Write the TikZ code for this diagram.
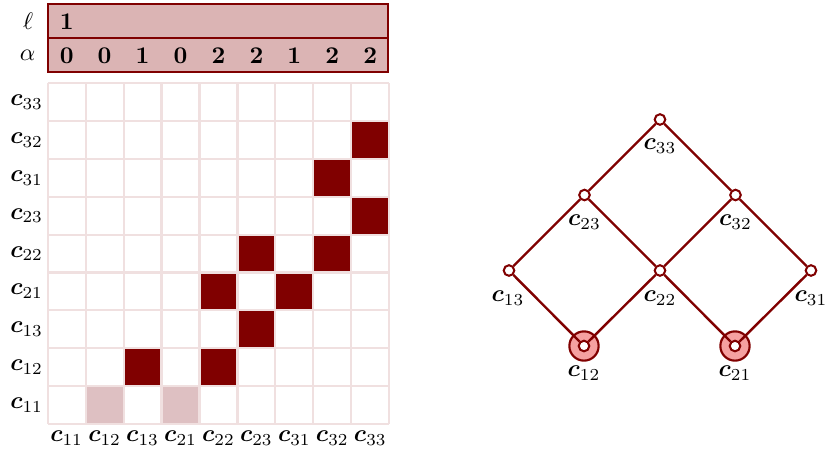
\documentclass[tikz,border=0pt]{standalone}
\usepackage{amsmath}
\usetikzlibrary{calc}
\definecolor{dred}{RGB}{128,0,0}
\definecolor{tabfill}{RGB}{219,180,180}
\definecolor{lightcell}{RGB}{222,192,194}
\definecolor{gridpink}{RGB}{240,224,224}
\definecolor{ringfill}{RGB}{245,160,160}
\newcommand{\cc}[1]{$\boldsymbol{c}_{#1}$}
\begin{document}
\begin{tikzpicture}[x=0.41667pt,y=-0.41667pt,
  tabbox/.style={draw=dred,fill=tabfill,line width=0.9pt},
  gridline/.style={draw=gridpink,line width=0.9pt},
  darkcell/.style={fill=dred},
  palecell/.style={fill=lightcell},
  lat/.style={draw=dred,line width=1pt},
  vert/.style={circle,draw=dred,fill=white,line width=0.85pt,inner sep=0pt,minimum size=4.4pt},
  ring/.style={circle,draw=dred,fill=ringfill,line width=0.9pt,inner sep=0pt,minimum size=12.2pt},
  txt/.style={inner sep=0pt}]
\useasboundingbox (0,0) rectangle (828,455);
% top table
\draw[tabbox] (47.7,4) rectangle (388.3,38.3);
\draw[tabbox] (47.7,38.3) rectangle (388.3,71.7);
\node[txt] (lell) at (28,21) {$\ell$};
\node[txt] (lalpha) at (27.5,55) {$\alpha$};
\node[txt] (one) at (66.7,22) {\textbf{1}};
\foreach \v [count=\i from 0] in {0,0,1,0,2,2,1,2,2}
  \node[txt] (a\i) at (47.7+37.95*\i+18.97,56) {\textbf{\v}};
% grid cells
\def\cell#1#2#3{\fill[#3] (47.7+37.95*#1,83.3+37.85*#2) rectangle ++(37.95,37.85);}
\cell{8}{1}{darkcell}
\cell{7}{2}{darkcell}
\cell{8}{3}{darkcell}
\cell{5}{4}{darkcell}
\cell{7}{4}{darkcell}
\cell{4}{5}{darkcell}
\cell{6}{5}{darkcell}
\cell{5}{6}{darkcell}
\cell{2}{7}{darkcell}
\cell{4}{7}{darkcell}
\cell{1}{8}{palecell}
\cell{3}{8}{palecell}
\foreach \i in {0,...,9}{
  \draw[gridline] (47.7+37.95*\i,83.3) -- (47.7+37.95*\i,423.95);
  \draw[gridline] (47.7,83.3+37.85*\i) -- (389.25,83.3+37.85*\i);
}
% row labels
\foreach \s [count=\j from 0] in {33,32,31,23,22,21,13,12,11}
  \node[txt,anchor=east] (r\s) at (43.5,83.3+37.85*\j+18.9) {\cc{\s}};
% column labels
\foreach \s [count=\i from 0] in {11,12,13,21,22,23,31,32,33}
  \node[txt] (k\s) at (47.7+37.95*\i+18.97,438) {\cc{\s}};
% lattice
\node[ring] (h12) at (584,346) {};
\node[ring] (h21) at (735,346) {};
\node[vert] (c33) at (660,119.5) {};
\node[vert] (c23) at (584.5,195) {};
\node[vert] (c32) at (735.5,195) {};
\node[vert] (c13) at (509,270.5) {};
\node[vert] (c22) at (660,270.5) {};
\node[vert] (c31) at (811,270.5) {};
\node[vert] (c12) at (584,346) {};
\node[vert] (c21) at (735,346) {};
\draw[lat] (c33) -- (c23);
\draw[lat] (c33) -- (c32);
\draw[lat] (c23) -- (c13);
\draw[lat] (c23) -- (c22);
\draw[lat] (c32) -- (c22);
\draw[lat] (c32) -- (c31);
\draw[lat] (c13) -- (c12);
\draw[lat] (c22) -- (c12);
\draw[lat] (c22) -- (c21);
\draw[lat] (c31) -- (c21);
\node[txt] (t33) at (660,146) {\cc{33}};
\node[txt] (t23) at (584.5,222) {\cc{23}};
\node[txt] (t32) at (735.5,222) {\cc{32}};
\node[txt] (t13) at (508,298) {\cc{13}};
\node[txt] (t22) at (660,298) {\cc{22}};
\node[txt] (t31) at (811,298) {\cc{31}};
\node[txt] (t12) at (584,373) {\cc{12}};
\node[txt] (t21) at (735,373) {\cc{21}};
\end{tikzpicture}
\end{document}
